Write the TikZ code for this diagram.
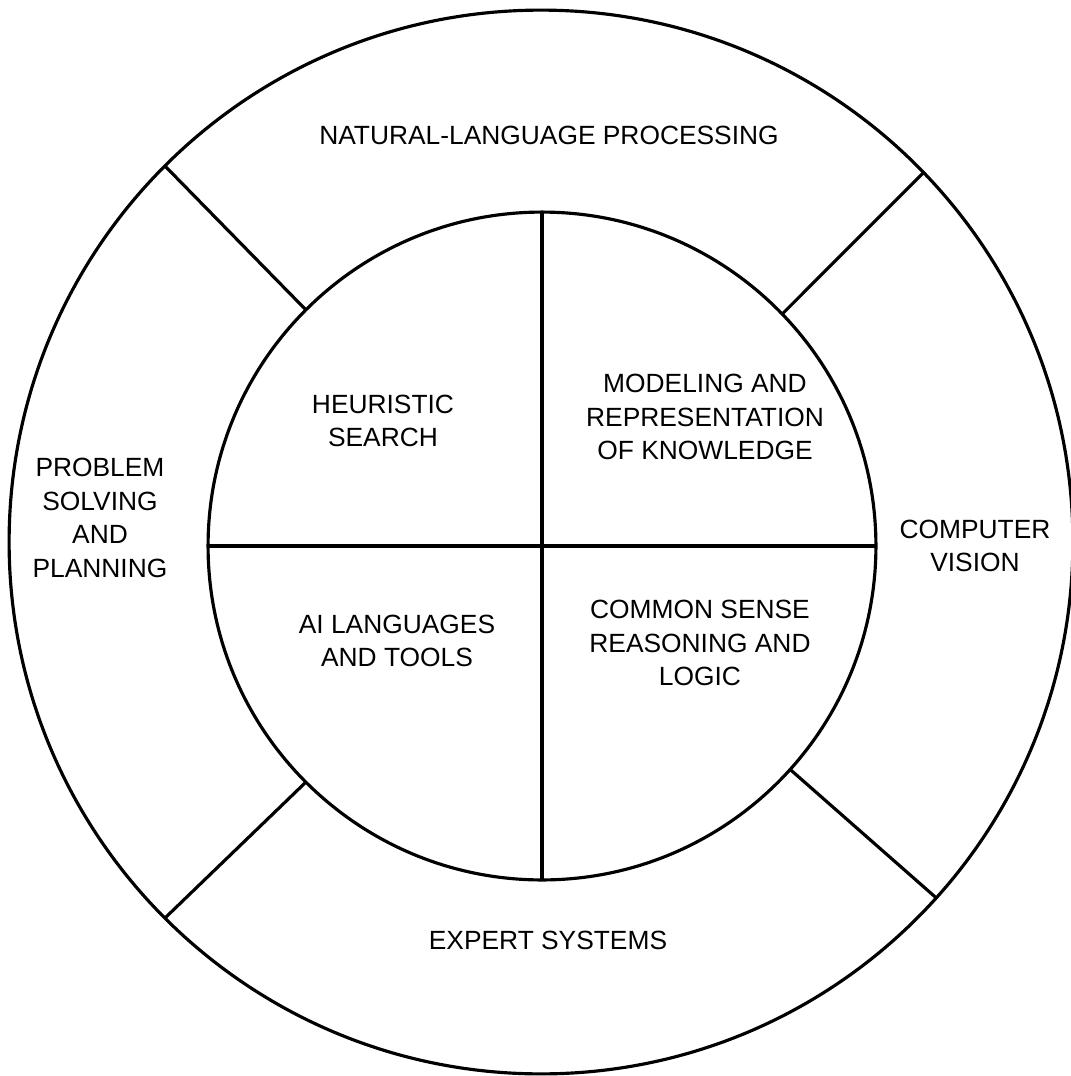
\documentclass[tikz,border=0pt]{standalone}
\usepackage{fontspec}
\setmainfont{Liberation Sans}
\begin{document}
\begin{tikzpicture}[
  x=0.02cm, y=-0.02cm,
  ring/.style={circle, draw, line width=1.8pt, inner sep=0pt, outer sep=0pt},
  spoke/.style={line width=1.8pt},
  field/.style={align=center, font=\fontsize{15}{19.2}\selectfont}
]
\useasboundingbox (0,0) rectangle (1071,1076);

\node[ring, minimum size=21.28cm] (outer) at (541,542) {};
\node[ring, minimum size=13.36cm] (inner) at (542,546) {};

\draw[spoke] (inner.north) -- (inner.south);
\draw[spoke] (inner.west) -- (inner.east);
\draw[spoke] (inner.135) -- (outer.135);
\draw[spoke] (inner.44) -- (outer.44);
\draw[spoke] (inner.225) -- (outer.225);
\draw[spoke] (inner.-42) -- (outer.-42);

\node[field] (nlp) at (549,135) {NATURAL-LANGUAGE PROCESSING};
\node[field] (plan) at (100,518) {PROBLEM\\SOLVING\\AND\\PLANNING};
\node[field] (vision) at (975,546) {COMPUTER\\VISION};
\node[field] (expert) at (548,940) {EXPERT SYSTEMS};

\node[field] (search) at (383,421) {HEURISTIC\\SEARCH};
\node[field] (knowledge) at (705,417) {MODELING AND\\REPRESENTATION\\OF KNOWLEDGE};
\node[field] (tools) at (397,641) {AI LANGUAGES\\AND TOOLS};
\node[field] (logic) at (700,643) {COMMON SENSE\\REASONING AND\\LOGIC};
\end{tikzpicture}
\end{document}
